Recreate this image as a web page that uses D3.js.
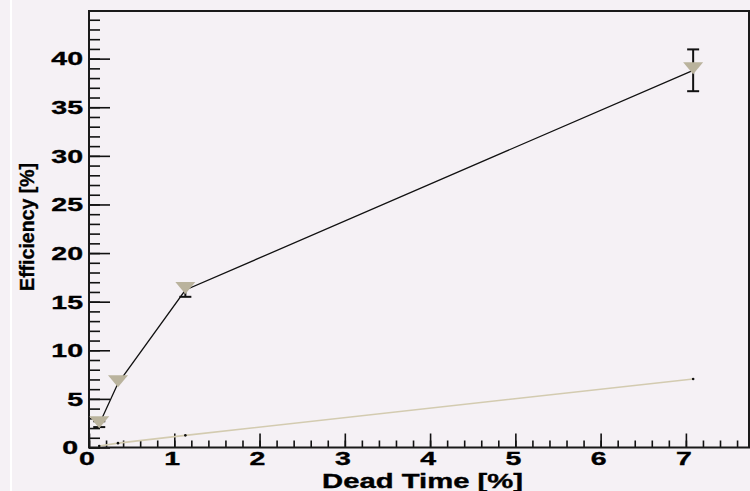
<!DOCTYPE html>
<html>
<head>
<meta charset="utf-8">
<script src="https://cdn.jsdelivr.net/npm/d3@7"></script>
<style>
  html, body { margin: 0; padding: 0; background: #f5f1f5; }
  svg { display: block; }
  text { font-family: "Liberation Sans", Arial, sans-serif; font-weight: bold; fill: #000; stroke: #000; stroke-width: 0.35; }
</style>
</head>
<body>
<script>
// Measured efficiency vs. dead time, with error bars
const deadTime = [0.12, 0.34, 1.13, 7.085];
const efficiency = [2.4, 6.6, 16.2, 38.8];
const efficiencyErr = [0.3, 0, 0.7, 2.15];
// Reference curve (efficiency equal to the dead time)
const referenceEff = [0.15, 0.45, 1.25, 7.05];

const xTickValues = [0, 1, 2, 3, 4, 5, 6, 7];
const yTickValues = [0, 5, 10, 15, 20, 25, 30, 35, 40];
const xTitle = "Dead Time [%]";
const yTitle = "Efficiency [%]";

const W = 750, H = 491;
const svg = d3.select("body").append("svg").attr("width", W).attr("height", H);

svg.append("rect").attr("width", W).attr("height", H).attr("fill", "#f5f1f5");
svg.append("rect").attr("x", 10).attr("y", 0).attr("width", 2).attr("height", H).attr("fill", "#ffffff");

const x = d3.scaleLinear().domain([0, 7.74]).range([89, 749]);
const y = d3.scaleLinear().domain([0, 44.9]).range([447.5, 11]);

const sx = 1.5; // labels are drawn horizontally widened

// minor + major ticks pointing into the frame
const xMinor = d3.range(0, 7.7, 0.2);
const yMinor = d3.range(0, 45, 1);

svg.append("g").attr("transform", `translate(0,${y(0)})`)
  .call(d3.axisBottom(x).tickValues(xMinor).tickSize(-7).tickFormat(""))
  .call(g => g.select(".domain").remove());
svg.append("g").attr("transform", `translate(0,${y(0)})`)
  .call(d3.axisBottom(x).tickValues(xTickValues).tickSize(-14).tickFormat(""))
  .call(g => g.select(".domain").remove());
svg.append("g").attr("transform", `translate(${x(0)},0)`)
  .call(d3.axisLeft(y).tickValues(yMinor).tickSize(-11).tickFormat(""))
  .call(g => g.select(".domain").remove());
svg.append("g").attr("transform", `translate(${x(0)},0)`)
  .call(d3.axisLeft(y).tickValues(yTickValues).tickSize(-21).tickFormat(""))
  .call(g => g.select(".domain").remove());
svg.selectAll(".tick line").attr("stroke", "#111").attr("stroke-width", 1.6);

// frame
svg.append("rect")
  .attr("x", x(0)).attr("y", y(44.9))
  .attr("width", x(7.74) - x(0)).attr("height", y(0) - y(44.9))
  .attr("fill", "none").attr("stroke", "#1a1a1a").attr("stroke-width", 2);

// tick labels
svg.append("g").selectAll("text").data(xTickValues).join("text")
  .attr("transform", d => `translate(${x(d) - 2},465) scale(${sx},1)`)
  .attr("text-anchor", "middle").attr("font-size", 19)
  .text(d => d);
svg.append("g").selectAll("text").data(yTickValues).join("text")
  .attr("transform", d => `translate(${d === 0 ? 78 : 83},${y(d)}) scale(${sx},1)`)
  .attr("dy", "0.36em")
  .attr("text-anchor", "end").attr("font-size", 19)
  .text(d => d);

// axis titles
svg.append("text")
  .attr("transform", `translate(523,488) scale(${sx},1)`)
  .attr("text-anchor", "end").attr("font-size", 19.5)
  .text(xTitle);
svg.append("text")
  .attr("transform", "translate(33.5,163) rotate(-90)")
  .attr("text-anchor", "end").attr("font-size", 19.5)
  .text(yTitle);

// reference curve
const refPts = deadTime.map((d, i) => [d, referenceEff[i]]);
svg.append("path")
  .attr("d", d3.line().x(d => x(d[0])).y(d => y(d[1]))(refPts))
  .attr("fill", "none").attr("stroke", "#d3cbb0").attr("stroke-width", 1.6);

// measured curve
const pts = deadTime.map((d, i) => ({ x: d, y: efficiency[i], e: efficiencyErr[i] }));
svg.append("path")
  .attr("d", d3.line().x(d => x(d.x)).y(d => y(d.y))(pts))
  .attr("fill", "none").attr("stroke", "#111").attr("stroke-width", 1.3);

// error bars
const eb = svg.append("g").attr("stroke", "#111").attr("stroke-width", 2);
pts.filter(p => p.e > 0).forEach(p => {
  eb.append("line").attr("x1", x(p.x)).attr("x2", x(p.x)).attr("y1", y(p.y - p.e)).attr("y2", y(p.y + p.e));
  [p.y - p.e, p.y + p.e].forEach(v => {
    eb.append("line").attr("x1", x(p.x) - 6).attr("x2", x(p.x) + 6).attr("y1", y(v)).attr("y2", y(v));
  });
});

// downward triangle markers
svg.append("g").selectAll("path").data(pts).join("path")
  .attr("transform", d => `translate(${x(d.x)},${y(d.y)})`)
  .attr("d", "M-10,-8L10,-8L0,4Z")
  .attr("fill", "#bab39d");

// reference points
svg.append("g").selectAll("circle").data(refPts).join("circle")
  .attr("cx", d => x(d[0])).attr("cy", d => y(d[1])).attr("r", 1.3)
  .attr("fill", "#111");
</script>
</body>
</html>
